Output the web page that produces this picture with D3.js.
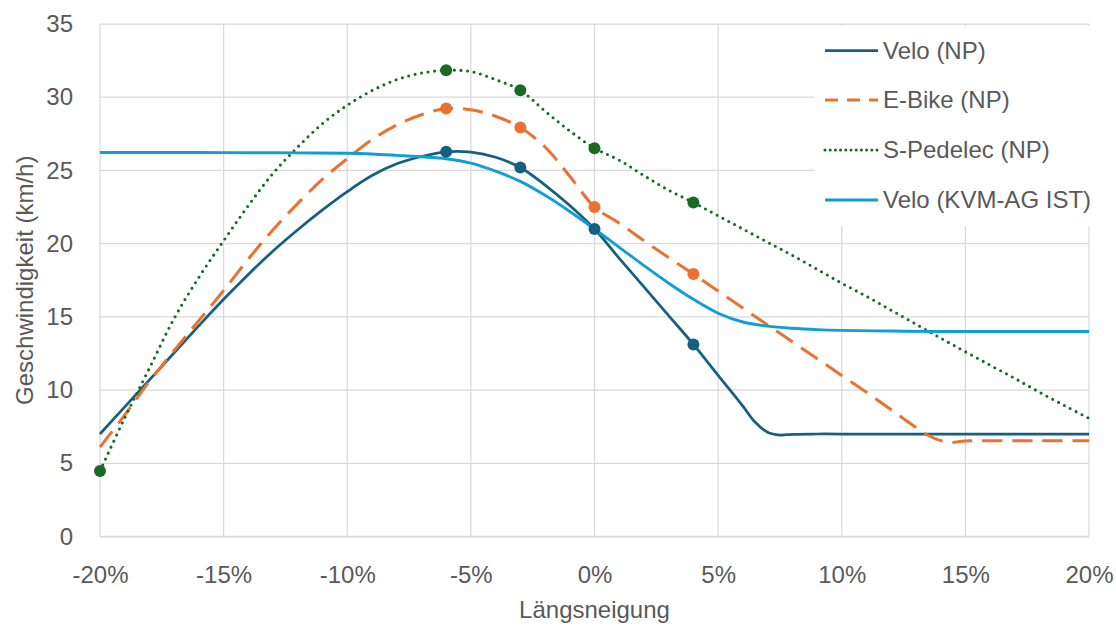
<!DOCTYPE html>
<html>
<head>
<meta charset="utf-8">
<script src="https://cdn.jsdelivr.net/npm/d3@7"></script>
<style>
  html, body { margin: 0; padding: 0; background: #ffffff; }
  svg { display: block; }
  text { font-family: "Liberation Sans", Arial, sans-serif; fill: #595959; }
</style>
</head>
<body>
<svg id="chart" width="1116" height="626"></svg>
<script>
// Längsneigung (%) and Geschwindigkeit (km/h) per series
const veloNpGrade = [-20,-19,-18,-17,-16,-15,-14,-13,-12,-11,-10,-9,-8,-7,-6,-5,-4,-3,-2,-1,0,1,2,3,4,5,6,6.5,7,7.5,8,9,10,12,14,16,18,20];
const veloNpSpeed = [7.0,8.85,10.7,12.55,14.4,16.2,17.9,19.5,20.95,22.3,23.55,24.65,25.45,25.95,26.27,26.25,25.9,25.2,24.0,22.6,21.0,19.0,17.05,15.08,13.12,11.0,8.9,7.8,7.12,6.93,6.98,7.0,7.0,7.0,7.0,7.0,7.0,7.0];

const eBikeGrade = [-20,-19,-18,-17,-16,-15,-14,-13,-12,-11,-10,-9,-8,-7,-6,-5,-4,-3,-2,-1,0,1,2,3,4,5,6,7,8,9,10,11,12,13,13.5,14,14.4,15,16,18,20];
const eBikeSpeed = [6.1,8.3,10.6,12.7,14.75,16.8,18.95,20.95,22.75,24.4,25.8,27.1,28.1,28.8,29.23,29.15,28.7,27.93,26.6,24.6,22.51,21.4,20.2,19.05,17.92,16.77,15.6,14.45,13.3,12.15,11.0,9.85,8.65,7.45,6.9,6.55,6.42,6.52,6.54,6.54,6.54];

const sPedelecGrade = [-20,-19,-18,-17,-16,-15,-14,-13,-12,-11,-10,-9,-8,-7,-6,-5,-4,-3,-2,-1,0,1,2,3,4,5,6,7,8,9,10,11,12,13,14,15,16,17,18,19,20];
const sPedelecSpeed = [4.47,8.1,11.5,14.9,17.7,20.2,22.6,24.8,26.6,28.2,29.45,30.45,31.2,31.65,31.84,31.75,31.2,30.48,29.05,27.7,26.52,25.7,24.65,23.65,22.81,21.9,21.0,20.1,19.2,18.25,17.3,16.4,15.45,14.5,13.55,12.62,11.7,10.8,9.85,8.95,8.07];

const veloKvmGrade = [-20,-18,-16,-14,-12,-10,-9,-8,-7,-6,-5,-4,-3,-2,-1,0,1,2,3,4,5,6,7,8,9,10,12,14,16,18,20];
const veloKvmSpeed = [26.22,26.22,26.22,26.21,26.2,26.17,26.12,26.03,25.93,25.8,25.5,24.95,24.25,23.3,22.2,21.0,19.75,18.5,17.3,16.2,15.25,14.65,14.37,14.22,14.13,14.08,14.03,14.0,14.0,14.0,14.0];

// Grades at which a series shows point markers
const veloNpMarks = [-6,-3,0,4];
const eBikeMarks = [-6,-3,0,4];
const sPedelecMarks = [-20,-6,-3,0,4];
const veloKvmMarks = [];

const seriesNames = ["Velo (NP)", "E-Bike (NP)", "S-Pedelec (NP)", "Velo (KVM-AG IST)"];
const xTicks = [-20,-15,-10,-5,0,5,10,15,20];
const yTicks = [0,5,10,15,20,25,30,35];
const xTitle = "Längsneigung";
const yTitle = "Geschwindigkeit (km/h)";

const series = [
  { name: seriesNames[0], grade: veloNpGrade, speed: veloNpSpeed, marks: veloNpMarks,
    color: "#156082", width: 2.75, dash: null, legendDash: null, cap: "butt" },
  { name: seriesNames[1], grade: eBikeGrade, speed: eBikeSpeed, marks: eBikeMarks,
    color: "#E97132", width: 3, dash: "20 10", legendDash: "13 9", cap: "butt" },
  { name: seriesNames[2], grade: sPedelecGrade, speed: sPedelecSpeed, marks: sPedelecMarks,
    color: "#196B24", width: 3.1, dash: "0 6.6", legendDash: "0 5.2", cap: "round" },
  { name: seriesNames[3], grade: veloKvmGrade, speed: veloKvmSpeed, marks: veloKvmMarks,
    color: "#0F9ED5", width: 2.9, dash: null, legendDash: null, cap: "butt" }
];

const svg = d3.select("#chart");
const plot = { left: 100, right: 1089, top: 24, bottom: 536.5 };

const x = d3.scaleLinear().domain([-20, 20]).range([plot.left, plot.right]);
const y = d3.scaleLinear().domain([0, 35]).range([plot.bottom, plot.top]);

// Gridlines
const grid = svg.append("g");
grid.selectAll("line.h").data(yTicks).join("line")
  .attr("x1", plot.left).attr("x2", plot.right)
  .attr("y1", d => y(d)).attr("y2", d => y(d))
  .attr("stroke", "#d9d9d9").attr("stroke-width", d => d === 0 ? 1.75 : 1.25);
grid.selectAll("line.v").data(xTicks).join("line")
  .attr("y1", plot.top).attr("y2", plot.bottom)
  .attr("x1", d => x(d)).attr("x2", d => x(d))
  .attr("stroke", "#d9d9d9").attr("stroke-width", 1.25);

// Axes (labels only; lines come from the grid)
const fmtPct = d => d + "%";
const xAxis = svg.append("g")
  .attr("transform", `translate(0,${plot.bottom})`)
  .call(d3.axisBottom(x).tickValues(xTicks).tickFormat(fmtPct).tickSize(0).tickPadding(29));
const yAxis = svg.append("g")
  .attr("transform", `translate(${plot.left},0)`)
  .call(d3.axisLeft(y).tickValues(yTicks).tickSize(0).tickPadding(27));
[xAxis, yAxis].forEach(a => {
  a.select(".domain").remove();
  a.selectAll("text").attr("fill", "#595959")
    .style("font-family", '"Liberation Sans", Arial, sans-serif').style("font-size", "24px");
});

// Axis titles
svg.append("text").attr("x", (plot.left + plot.right) / 2).attr("y", 618)
  .attr("text-anchor", "middle").style("font-size", "24px").text(xTitle);
svg.append("text").attr("transform", `translate(33,${(plot.top + plot.bottom) / 2}) rotate(-90)`)
  .attr("text-anchor", "middle").style("font-size", "24px").text(yTitle);

// Series lines
const line = d3.line().x(d => x(d[0])).y(d => y(d[1])).curve(d3.curveCatmullRom.alpha(0.5));
const lines = svg.append("g");
series.forEach(s => {
  const pts = s.grade.map((g, i) => [g, s.speed[i]]);
  lines.append("path").datum(pts)
    .attr("d", line)
    .attr("fill", "none")
    .attr("stroke", s.color)
    .attr("stroke-width", s.width)
    .attr("stroke-linecap", s.cap)
    .attr("stroke-linejoin", "round")
    .attr("stroke-dasharray", s.dash);
});

// Markers
const markers = svg.append("g");
series.forEach(s => {
  const pts = s.marks.map(g => [g, s.speed[s.grade.indexOf(g)]]);
  markers.selectAll(null).data(pts).join("circle")
    .attr("cx", d => x(d[0])).attr("cy", d => y(d[1]))
    .attr("r", 6).attr("fill", s.color);
});

// Legend
const legend = svg.append("g");
legend.append("rect").attr("x", 815).attr("y", 26).attr("width", 285).attr("height", 200).attr("fill", "#ffffff");
const rowY = [50.5, 100, 150, 200];
series.forEach((s, i) => {
  legend.append("line")
    .attr("x1", 825).attr("x2", 878).attr("y1", rowY[i]).attr("y2", rowY[i])
    .attr("stroke", s.color).attr("stroke-width", s.width)
    .attr("stroke-linecap", s.cap).attr("stroke-dasharray", s.legendDash);
  legend.append("text").attr("x", 883).attr("y", rowY[i]).attr("dy", "0.35em")
    .style("font-size", "24px").text(s.name);
});
</script>
</body>
</html>
